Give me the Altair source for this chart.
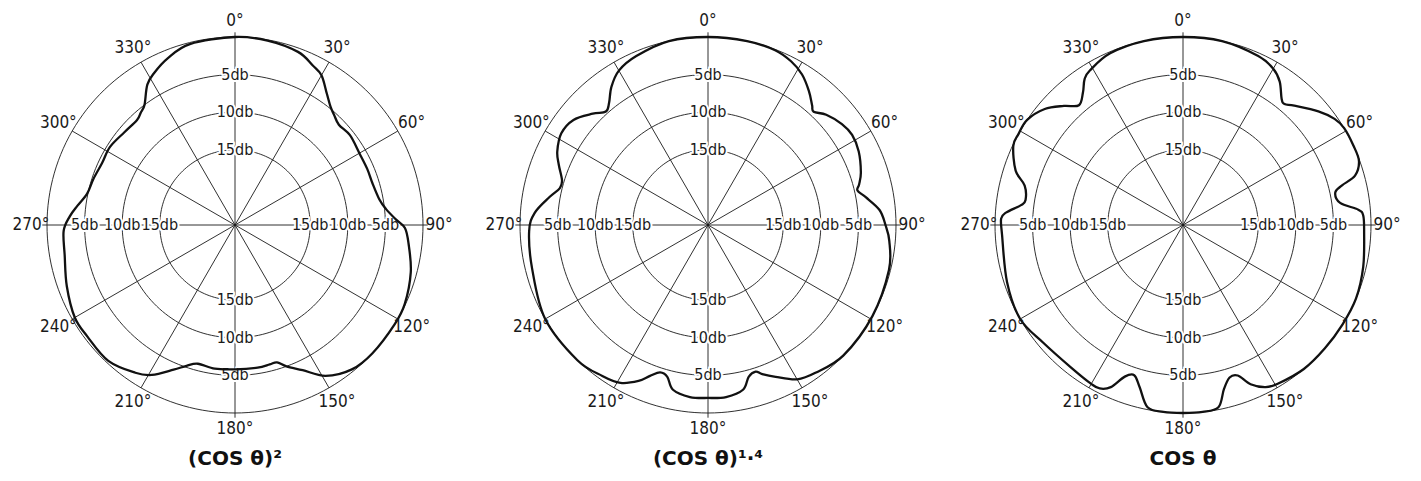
import altair as alt
import pandas as pd

# ---------------- data ----------------
titles = ["(COS θ)²", "(COS θ)¹·⁴", "COS θ"]

# panel 1 : (cos θ)^2   angle in degrees (clockwise from 0°), level in dB below maximum
angles1 = [0, 10, 20, 26, 30, 35, 39, 42, 46, 52, 60, 67, 73, 80, 84, 88, 91, 96, 105, 115,
           122, 133, 141, 149, 155, 160, 163, 166, 171, 180, 188, 195, 199, 203, 209, 214,
           223, 233, 240, 250, 260, 268, 273, 277, 282, 288, 295, 302, 310, 317, 320, 323,
           328, 332, 338, 346]
db1 = [0, 0.1, 0.5, 1.4, 2.0, 3.7, 4.8, 5.3, 5.8, 5.6, 5.9, 5.9, 5.9, 5.5, 4.8, 3.6, 2.4, 1.8,
       0.8, 0.1, 0, 0, 0.3, 1.6, 3.7, 5.0, 5.9, 5.9, 5.8, 5.8, 5.7, 5.9, 5.2, 4.1, 2.2, 1.3,
       0.3, 0.4, 0.4, 1.2, 2.0, 2.2, 3.0, 3.9, 4.9, 5.2, 5.5, 5.4, 5.8, 5.9, 5.5, 5.0,
       3.0, 2.1, 1.1, 0.2]

# panel 2 : (cos θ)^1.4
angles2 = [0, 12, 21, 27, 32, 37, 41, 43, 47, 53, 58, 64, 71, 75, 77, 80, 85, 90, 95, 104,
           119, 134, 144, 150, 156, 160, 162, 165, 168, 174, 180, 186, 192, 195, 198, 201,
           204, 209, 215, 224, 240, 256, 268, 274, 280, 284, 287, 292, 296, 302, 308, 314,
           318, 321, 325, 330, 337, 348]
db2 = [0, 0, 0.1, 0.6, 1.4, 2.7, 3.9, 4.4, 3.5, 2.7, 2.4, 2.7, 3.5, 4.2, 4.6, 3.7, 2.1, 1.4,
       0.8, 0.2, 0, 0, 0.7, 1.3, 2.9, 3.9, 4.5, 4.1, 2.6, 2.0, 2.0, 2.0, 2.6, 4.1, 4.4, 3.5,
       2.3, 1.0, 0.5, 0, 0, 0.9, 1.2, 1.9, 3.6, 4.7, 4.7, 3.6, 2.7, 2.0, 2.3, 3.7,
       4.7, 4.1, 2.6, 1.3, 0.6, 0]

# panel 3 : cos θ
angles3 = [0, 12, 24, 30, 34, 38, 40, 43, 50, 55, 59, 65, 70, 74, 76, 78, 82, 85, 87, 92,
           103, 113, 122, 131, 140, 149, 153, 157, 160, 163, 166, 169, 174, 180, 186, 191,
           195, 198, 201, 204, 207, 210, 218, 230, 240, 252, 267, 272, 274, 277, 279, 284,
           288, 295, 299, 304, 310, 315, 319, 323, 326, 329, 337, 348]
db3 = [0, 0, 0.4, 1.0, 2.0, 3.7, 4.0, 3.3, 1.5, 0.4, 0, 0, 0.1, 1.2, 3.2, 4.3, 3.9, 1.6, 1.0,
       0.9, 0.4, 0, 0, 0, 0, 0.4, 0.8, 2.0, 3.7, 3.8, 2.5, 0.3, 0, 0, 0, 0.3, 2.7, 4.0, 3.4,
       1.4, 0.6, 0.6, 0.9, 0.7, 0, 0.4, 0.9, 0.8, 1.4, 3.3, 3.8, 3.3, 1.6, 0.1, 0, 0, 1.0,
       2.6, 3.9, 2.9, 1.6, 1.0, 0.2, 0]

ring_levels = [0, 5, 10, 15]
spoke_angles = [0, 30, 60, 90, 120, 150, 180, 210, 240, 270, 300, 330]
degree_texts = ["0°", "30°", "60°", "90°", "120°", "150°", "180°", "210°", "240°", "270°", "300°", "330°"]
db_label_levels = [5, 10, 15]
db_label_texts = ["5db", "10db", "15db"]
db_label_angles = [0, 90, 180, 270]

# ---------------- layout constants ----------------
DB_SPAN = 25          # dB from outer ring to centre
R_PX = 188            # outer ring radius in pixels
W, H = 468, 437       # each panel's plot area
CY = 217              # centre distance from the top of the panel
CXS = [227, 232, 239] # centre distance from the left edge of each panel
LABEL_R = 1.085
FONT = "DejaVu Sans"
COND = "DejaVu Sans Condensed, DejaVu Sans"
INK = "#1a1a1a"


def polar(chart, rad_expr):
    return chart.transform_calculate(
        rr=rad_expr
    ).transform_calculate(
        px="datum.rr*sin(datum.a*PI/180)",
        py="datum.rr*cos(datum.a*PI/180)",
    )


def panel(angles, dbs, title, cx):
    xs = alt.Scale(domain=[-cx / R_PX, (W - cx) / R_PX], nice=False, zero=False)
    ys = alt.Scale(domain=[-(H - CY) / R_PX, CY / R_PX], nice=False, zero=False)

    def X(f):
        return alt.X(f, type="quantitative", scale=xs, axis=None)

    def Y(f):
        return alt.Y(f, type="quantitative", scale=ys, axis=None)

    # concentric rings
    rings = alt.Chart(pd.DataFrame({"level": ring_levels})).transform_calculate(
        a="sequence(0, 361, 2)"
    ).transform_flatten(["a"])
    rings = polar(rings, f"1 - datum.level/{DB_SPAN}").mark_line(
        color=INK, strokeWidth=0.9
    ).encode(x=X("px"), y=Y("py"), detail="level:N", order="a:Q")

    # radial spokes
    spokes = alt.Chart(pd.DataFrame({"a": spoke_angles})).transform_calculate(
        ext="datum.a % 90 == 0 ? 1.025 : 1.0",
        zero="0",
    ).transform_calculate(
        ex="datum.ext*sin(datum.a*PI/180)",
        ey="datum.ext*cos(datum.a*PI/180)",
    ).mark_rule(color=INK, strokeWidth=0.9).encode(
        x=X("zero"), y=Y("zero"), x2=alt.X2("ex:Q"), y2=alt.Y2("ey:Q")
    )

    # dB labels on the axes, with a white knock-out halo
    rows = []
    for lv, tx in zip(db_label_levels, db_label_texts):
        for ang in db_label_angles:
            rows.append({"level": lv, "label": tx, "a": ang})
    dbl = polar(alt.Chart(pd.DataFrame(rows)), f"1 - datum.level/{DB_SPAN}")
    halo = dbl.mark_text(
        font=COND, fontSize=16, align="center", baseline="middle",
        color="white", stroke="white", strokeWidth=4, strokeJoin="round",
    ).encode(x=X("px"), y=Y("py"), text="label:N")
    dbt = dbl.mark_text(
        font=COND, fontSize=16, align="center", baseline="middle", color=INK,
    ).encode(x=X("px"), y=Y("py"), text="label:N")

    # the radiation pattern
    curve_df = pd.DataFrame({"a": angles, "db": dbs})
    curve = polar(alt.Chart(curve_df), f"1 - datum.db/{DB_SPAN}").mark_line(
        color="#111", strokeWidth=2.3, interpolate="cardinal-closed"
    ).encode(x=X("px"), y=Y("py"), order="a:Q")

    # degree labels
    deg_df = pd.DataFrame({"a": spoke_angles, "label": degree_texts})
    deg = polar(alt.Chart(deg_df), str(LABEL_R)).mark_text(
        font=COND, fontSize=17, align="center", baseline="middle", color=INK,
    ).encode(x=X("px"), y=Y("py"), text="label:N")

    return alt.layer(rings, spokes, halo, dbt, curve, deg).properties(
        width=W, height=H,
        title=alt.TitleParams(
            text=title, orient="bottom", anchor="middle", dx=cx - W / 2,
            font=FONT, fontSize=20, fontWeight="bold", color="#111", offset=4,
        ),
    )


panels = [panel(a, d, t, c) for a, d, t, c in
          zip([angles1, angles2, angles3], [db1, db2, db3], titles, CXS)]

chart = alt.hconcat(*panels, spacing=0, bounds="flush").properties(
    padding=0, background="white"
).configure_view(stroke=None)

chart.save("out.html", embed_options={"renderer": "svg", "actions": False})
